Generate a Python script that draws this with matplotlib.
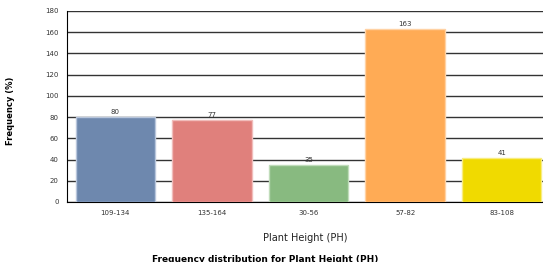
import matplotlib.pyplot as plt
import numpy as np

categorias = ['109-134', '135-164', '30-56', '57-82', '83-108']
frecuencias = [80, 77, 35, 163, 41]
colores = ['#6E88AE', '#E0807C', '#88BA80', '#FFAB55', '#F0DA00']
bordes = ['#B8C6DC', '#F0BCBA', '#C0DCBA', '#FFD2A4', '#F8EC80']

fig = plt.figure(figsize=(5.43, 2.62), dpi=100)
ax = fig.add_axes([67/543, 60/262, 483/543, 191/262])

x = np.arange(len(categorias))
ax.bar(x, frecuencias, width=0.82, color=colores, edgecolor=bordes, linewidth=1, zorder=3)
for xi, v in zip(x, frecuencias):
    ax.text(xi, v + 2, str(v), ha='center', va='bottom', fontsize=5, color='#333333')

ax.set_xlim(-0.5, len(categorias) - 0.5)
ax.set_ylim(0, 180)
ax.set_yticks(np.arange(0, 181, 20))
ax.set_xticks(x)
ax.set_xticklabels(categorias, fontsize=5, color='#333333')
ax.tick_params(axis='y', labelsize=5, colors='#333333', length=0, pad=6)
ax.tick_params(axis='x', length=0, pad=6)
ax.grid(axis='y', color='#333333', linewidth=1, zorder=0)
for s in ['top', 'right']:
    ax.spines[s].set_visible(False)
ax.spines['left'].set_color('black')
ax.spines['bottom'].set_color('black')

ax.set_ylabel('Frequency (%)', fontsize=6, fontweight='bold')
ax.yaxis.set_label_coords(-0.108, 0.48)
fig.text(305/543, 1 - 238/262, 'Plant Height (PH)', ha='center', va='center', fontsize=7, color='#222222')
fig.text(265/543, 1 - 259/262, 'Frequency distribution for Plant Height (PH)', ha='center', va='center',
         fontsize=6.5, fontweight='bold')

fig.savefig('out.png', dpi=100)
